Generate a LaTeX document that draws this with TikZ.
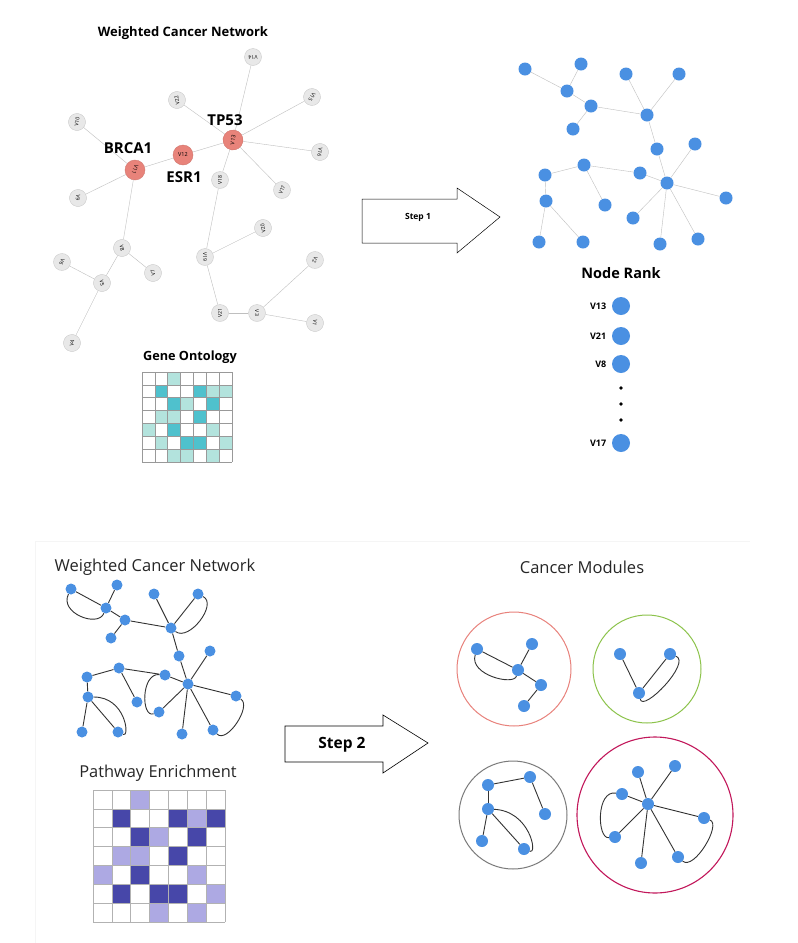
\documentclass[tikz,border=0pt]{standalone}
\usepackage{fontspec}
\setmainfont{Open Sans}
\usetikzlibrary{positioning}

\definecolor{nodeblue}{HTML}{4A90E2}
\definecolor{nodered}{HTML}{E8837A}
\definecolor{nodegray}{HTML}{E8E8E8}
\definecolor{golight}{HTML}{B3E3DD}
\definecolor{godark}{HTML}{4FC1CD}
\definecolor{pwlight}{HTML}{ADA9E3}
\definecolor{pwdark}{HTML}{4747A9}
\definecolor{modred}{HTML}{E8827C}
\definecolor{modgreen}{HTML}{8CC34B}
\definecolor{modgray}{HTML}{7A7A7A}
\definecolor{modpink}{HTML}{C2185B}

\tikzset{
  gnode/.style={circle, draw=gray!40, fill=nodegray, minimum size=17pt, inner sep=0pt, font=\fontsize{5.2}{6}\selectfont},
  rnode/.style={circle, draw=nodered!90!black, fill=nodered, minimum size=20pt, inner sep=0pt, font=\fontsize{5.5}{6}\selectfont},
  bnode/.style={circle, fill=nodeblue, minimum size=#1, inner sep=0pt},
  bnode/.default=12pt,
  thinedge/.style={gray!50, line width=0.4pt},
  darkedge/.style={black!80, line width=0.9pt},
  boldlabel/.style={font=\bfseries\fontsize{#1}{#1}\selectfont},
  plainlabel/.style={font=\fontsize{#1}{#1}\selectfont, black!85},
}

\begin{document}
\begin{tikzpicture}[x=1pt, y=-1pt]
    \useasboundingbox (0,0) rectangle (798,943);
    \fill[white] (0,0) rectangle (798,943);

    % weighted cancer network (top)
    \node[boldlabel=13] (wcn) at (183,33) {Weighted Cancer Network};
    \foreach \n/\x/\y/\r in {14/253/57/180, 22/177/100/100, 15/312/97/-120, 16/320/152/-100,
        10/77/122/80, 18/220/180/90, 17/282/190/70, 9/78/198/-100, 20/263/228/100, 8/122/248/-80,
        6/62/262/-110, 7/153/273/100, 5/102/283/-80, 19/205/257/-90, 2/315/260/-110,
        21/220/313/90, 3/257/313/-90, 1/315/323/-100, 4/72/343/80}
        \node[gnode, rotate=\r] (v\n) at (\x,\y) {V\n};
    \node[rnode, rotate=80] (v13) at (233,140) {V13};
    \node[rnode] (v12) at (183,155) {V12};
    \node[rnode, rotate=-110] (v11) at (135,170) {V11};
    \foreach \a/\b in {14/13, 22/13, 15/13, 16/13, 17/13, 18/13, 12/13, 12/11, 10/11, 9/11,
        8/11, 8/5, 8/7, 6/5, 5/4, 18/19, 19/20, 19/21, 21/3, 3/2, 3/1}
        \draw[thinedge] (v\a) -- (v\b);
    \node[boldlabel=15] (tp53) at (225,120) {TP53};
    \node[boldlabel=15] (brca1) at (128,148) {BRCA1};
    \node[boldlabel=15] (esr1) at (184,177) {ESR1};

    % gene ontology
    \node[boldlabel=12.7] (go) at (190,357) {Gene Ontology};
    \def\gcell{12.86}
    \foreach \r/\c in {1/3, 2/6, 2/7, 3/4, 4/2, 4/3, 5/1, 5/6, 6/2, 6/7, 7/3, 7/4, 7/6}
        \fill[golight] ({142+(\c-1)*\gcell},{372+(\r-1)*\gcell}) rectangle ++(\gcell,\gcell);
    \foreach \r/\c in {2/2, 2/5, 3/3, 3/6, 4/5, 5/3, 6/4, 6/5}
        \fill[godark] ({142+(\c-1)*\gcell},{372+(\r-1)*\gcell}) rectangle ++(\gcell,\gcell);
    \foreach \i in {0,...,7} {
        \draw[gray!80, line width=0.5pt] ({142+\i*\gcell},372) -- ++(0,{7*\gcell});
        \draw[gray!80, line width=0.5pt] (142,{372+\i*\gcell}) -- ++({7*\gcell},0);
    }

    % step 1
    \draw[line width=0.5pt, fill=white] (362,199) -- (457,199) -- (457,188) -- (500,217)
        -- (457,253) -- (457,243) -- (362,243) -- cycle;
    \node[boldlabel=8.5] (step1) at (418,217) {Step 1};

    % ranked network
    \foreach \n/\x/\y in {1/525/69, 2/581/64, 3/567/91, 4/626/74, 5/679/74, 6/591/106,
        7/573/129, 8/647/115, 9/657/149, 10/695/144, 11/584/165, 12/545/175, 13/640/173,
        14/667/183, 15/546/201, 16/605/205, 17/726/198, 18/633/218, 19/539/242,
        20/583/242, 21/660/244, 22/698/239}
        \node[bnode=13pt] (r\n) at (\x,\y) {};
    \foreach \a/\b in {1/3, 2/3, 3/6, 6/7, 6/8, 4/8, 5/8, 8/9, 9/14, 10/14, 14/17, 14/18,
        14/21, 14/22, 13/14, 11/13, 11/12, 11/16, 12/15, 15/19, 15/20}
        \draw[thinedge] (r\a) -- (r\b);

    % node rank
    \node[boldlabel=14.5] (rank) at (621,273) {Node Rank};
    \foreach \n/\y/\t in {1/306/V13, 2/336/V21, 3/364/V8, 4/443/V17} {
        \node[bnode=18pt] (k\n) at (621,\y) {};
        \node[boldlabel=9, left=2pt of k\n] (kl\n) {\t};
    }
    \foreach \y in {388,404,420}
        \fill[black] (621,\y) circle (1.8);

    % bottom panel
    \draw[gray!8, line width=0.8pt] (35,943) -- (35,541) -- (750,541);

    \node[plainlabel=16.5] (wcn2) at (155,567) {Weighted Cancer Network};
    \foreach \n/\x/\y in {1/71/589, 2/117/585, 3/106/608, 4/154/594, 5/198/594, 6/125/620,
        7/111/638, 8/171/628, 9/179/656, 10/210/651, 11/119/668, 12/87/677, 13/165/675,
        14/188/684, 15/88/697, 16/137/702, 17/236/696, 18/159/712, 19/82/732,
        20/118/732, 21/182/734, 22/213/730}
        \node[bnode=11pt] (w\n) at (\x,\y) {};
    \foreach \a/\b in {1/3, 2/3, 3/6, 6/7, 6/8, 4/8, 5/8, 8/9, 9/14, 10/14, 14/17, 14/18,
        14/21, 14/22, 13/14, 11/13, 11/12, 11/16, 12/15, 15/19, 15/20}
        \draw[darkedge] (w\a) -- (w\b);
    \draw[darkedge] (w1) .. controls +(-12,24) and +(-8,20) .. (w3);
    \draw[darkedge] (w5) .. controls +(20,10) and +(18,14) .. (w8);
    \draw[darkedge] (w13) .. controls +(-24,-2) and +(-18,6) .. (w18);
    \draw[darkedge] (w15) .. controls +(38,0) and +(12,6) .. (w20);
    \draw[darkedge] (w17) .. controls +(16,10) and +(14,14) .. (w22);

    % pathway enrichment
    \node[plainlabel=16.4] (pe) at (158,773) {Pathway Enrichment};
    \def\pcell{18.86}
    \foreach \r/\c in {1/3, 2/6, 3/4, 4/2, 4/3, 5/1, 5/6, 6/7, 7/4, 7/6}
        \fill[pwlight] ({93+(\c-1)*\pcell},{790+(\r-1)*\pcell}) rectangle ++(\pcell,\pcell);
    \foreach \r/\c in {2/2, 2/5, 2/7, 3/3, 3/6, 4/5, 5/3, 6/2, 6/4, 6/5}
        \fill[pwdark] ({93+(\c-1)*\pcell},{790+(\r-1)*\pcell}) rectangle ++(\pcell,\pcell);
    \foreach \i in {0,...,7} {
        \draw[gray!60, line width=0.5pt] ({93+\i*\pcell},790) -- ++(0,{7*\pcell});
        \draw[gray!60, line width=0.5pt] (93,{790+\i*\pcell}) -- ++({7*\pcell},0);
    }

    % step 2
    \draw[line width=0.6pt, fill=white] (285,726) -- (383,726) -- (383,715) -- (428,743)
        -- (383,773) -- (383,762) -- (285,762) -- cycle;
    \node[boldlabel=15.5] (step2) at (342,745) {Step 2};

    % cancer modules
    \node[plainlabel=16.5] (cm) at (582,567) {Cancer Modules};
    \draw[modred, line width=1pt] (514,669) circle (57);
    \draw[modgreen, line width=1pt] (647,669) circle (54);
    \draw[modgray, line width=1pt] (513,815) circle (54);
    \draw[modpink, line width=1.1pt] (655,815) circle (78);

    \foreach \n/\x/\y in {1/477/649, 2/532/644, 3/518/670, 4/541/685, 5/524/706}
        \node[bnode] (ma\n) at (\x,\y) {};
    \foreach \a/\b in {1/3, 2/3, 3/4, 4/5}
        \draw[darkedge] (ma\a) -- (ma\b);
    \draw[darkedge] (ma1) .. controls +(-8,26) and +(-4,16) .. (ma3);

    \foreach \n/\x/\y in {1/620/654, 2/670/654, 3/639/693}
        \node[bnode] (mb\n) at (\x,\y) {};
    \foreach \a/\b in {1/3, 2/3}
        \draw[darkedge] (mb\a) -- (mb\b);
    \draw[darkedge] (mb2) .. controls +(22,8) and +(4,20) .. (mb3);

    \foreach \n/\x/\y in {1/488/785, 2/530/777, 3/488/809, 4/545/814, 5/482/841, 6/524/849}
        \node[bnode] (mc\n) at (\x,\y) {};
    \foreach \a/\b in {1/2, 2/4, 1/3, 3/5, 3/6}
        \draw[darkedge] (mc\a) -- (mc\b);
    \draw[darkedge] (mc3) .. controls +(42,2) and +(14,6) .. (mc6);

    \foreach \n/\x/\y in {1/648/804, 2/638/772, 3/675/766, 4/622/794, 5/704/818, 6/615/837,
        7/641/863, 8/678/857}
        \node[bnode] (md\n) at (\x,\y) {};
    \foreach \b in {2,...,8}
        \draw[darkedge] (md1) -- (md\b);
    \draw[darkedge] (md4) .. controls +(-26,-4) and +(-18,2) .. (md6);
    \draw[darkedge] (md5) .. controls +(18,6) and +(16,14) .. (md8);
\end{tikzpicture}
\end{document}
